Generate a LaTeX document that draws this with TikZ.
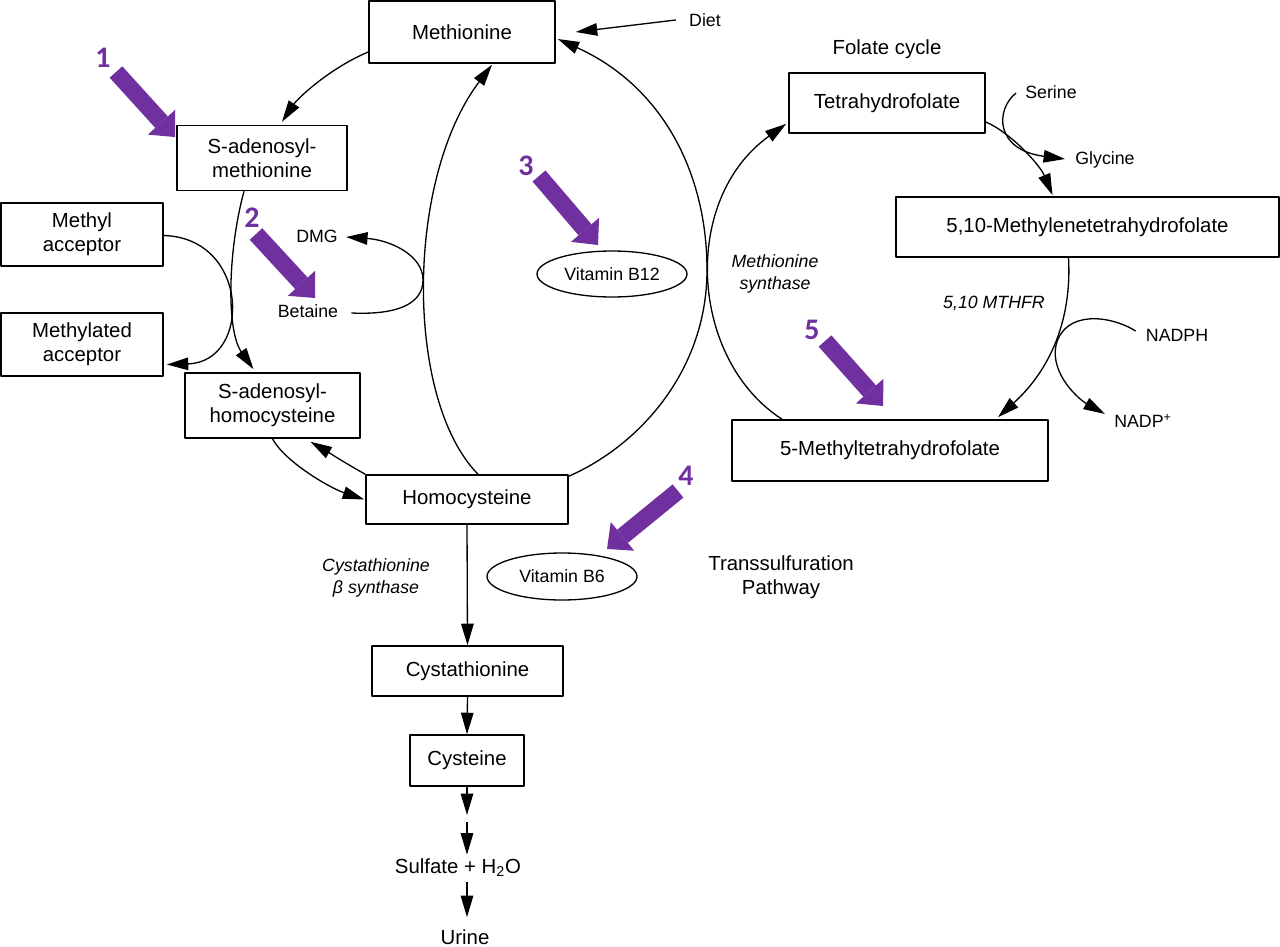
\documentclass[tikz,border=0pt]{standalone}
\usepackage{fontspec}
\setmainfont{Liberation Sans}
\newfontfamily\digitfont{Carlito}
\usepackage{xcolor}
\usepackage{tikz}
\usetikzlibrary{arrows.meta,calc,shapes.geometric}
\definecolor{HcyPurple}{RGB}{112,48,160}
\newcommand{\fsbig}{\fontsize{11.6pt}{13.5pt}\selectfont}
\newcommand{\fssmall}{\fontsize{10.1pt}{12.4pt}\selectfont}
\tikzset{
  hbox/.style   ={draw, line width=0.9pt, align=center, font=\fsbig, inner sep=1pt},
  hvit/.style   ={draw, ellipse, line width=0.75pt, inner sep=1pt, font=\fssmall},
  htext/.style  ={inner sep=0pt, align=center, font=\fsbig},
  hsmall/.style ={inner sep=0pt, align=center, font=\fssmall},
  henz/.style   ={inner sep=0pt, align=center, font=\fssmall\itshape},
  hflow/.style  ={draw, line width=0.75pt, -{Triangle[length=4.3mm,width=2.5mm]}},
  hfat/.style   ={draw=HcyPurple, line width=3.4mm, line cap=butt,
                  -{Triangle[length=4mm,width=7.4mm,line width=0pt]}},
  hnum/.style   ={text=HcyPurple, inner sep=0pt,
                  font=\digitfont\bfseries\fontsize{17pt}{17pt}\selectfont},
}

\begin{document}
\begin{tikzpicture}[
  x=0.02cm,y=-0.02cm,
  line join=round
]
\useasboundingbox (0,0) rectangle (1280,946);

% --- Methionine cycle -----------------------------------------------------
\node[hbox, minimum width=3.72cm, minimum height=1.24cm] (met)   at (462,32)      {Methionine};
\node[hbox, minimum width=3.40cm, minimum height=1.30cm] (sam)   at (262,158)     {S-adenosyl-\\methionine};
\node[hbox, minimum width=3.24cm, minimum height=1.26cm] (macc)  at (82,234.5)    {Methyl\\acceptor};
\node[hbox, minimum width=3.24cm, minimum height=1.26cm] (mdacc) at (82,344.5)    {Methylated\\acceptor};
\node[hbox, minimum width=3.50cm, minimum height=1.30cm] (sah)   at (272.5,405.5) {S-adenosyl-\\homocysteine};
\node[hbox, minimum width=4.04cm, minimum height=0.98cm] (hcy)   at (467,499.5)   {Homocysteine};

\node[hvit, minimum width=3.0cm, minimum height=0.92cm] (b12) at (612,274) {Vitamin B12};

\node[hsmall] (diet)    at (705,20)  {Diet};
\node[hsmall] (dmg)     at (317,236) {DMG};
\node[hsmall] (betaine) at (308,311) {Betaine};

\draw[hflow] ($(met.west)+(0,20)$) .. controls (330,68) and (298,98) .. ($(sam.north)+(20,-3)$);
\draw[hflow] ($(sam.south)+(-18,0)$) .. controls (228,250) and (226,330) .. ($(sah.north)+(-19,-3)$);
\draw[hflow] ($(macc.east)+(0,1)$) .. controls (250,238) and (252,362) .. ($(mdacc.east)+(3,20)$);
\draw[hflow] (sah.south) .. controls (285,462) and (330,488) .. ($(hcy.west)+(-1,0)$);
\draw[hflow] (hcy.north west) .. controls (345,463) and (328,452) .. ($(sah.south)+(38,3)$);
\draw[hflow] ($(hcy.north)+(11,0)$) .. controls (405,400) and (405,180) .. ($(met.south)+(30,1)$);
\draw[hflow] ($(hcy.north east)+(0,2)$) .. controls (640,445) and (707,370) .. (707,270)
  .. controls (707,170) and (660,85) .. ($(met.east)+(2,7)$);
\draw[hflow] ($(betaine.east)+(13,2)$) .. controls (395,315) and (423,305) .. (423,280)
  .. controls (423,255) and (390,240) .. ($(dmg.east)+(8,1)$);
\draw[hflow] ($(diet.west)+(-13,0)$) -- ($(met.east)+(20,0)$);

% --- Folate cycle ---------------------------------------------------------
\node[htext] (folate) at (887,49) {Folate cycle};
\node[hbox, minimum width=3.92cm, minimum height=1.20cm] (thf)     at (887,103)    {Tetrahydrofolate};
\node[hbox, minimum width=7.66cm, minimum height=1.20cm] (mthf510) at (1087.5,227) {5,10-Methylenetetrahydrofolate};
\node[hbox, minimum width=6.32cm, minimum height=1.22cm] (mthf5)   at (890,450.5)  {5-Methyltetrahydrofolate};

\node[hsmall] (serine)  at (1051,92)  {Serine};
\node[hsmall] (glycine) at (1105,160) {Glycine};
\node[hsmall] (nadph)   at (1177,335) {NADPH};
\node[hsmall] (nadp)    at (1143,421) {NADP\textsuperscript{+}};
\node[henz]   (metsyn)  at (775,274)  {Methionine\\synthase};
\node[henz]   (mthfr)   at (994,303)  {5,10 MTHFR};

\draw[hflow] ($(mthf5.north)+(-108,0)$) .. controls (690,360) and (680,200) .. ($(thf.south west)+(-2,-10)$);
\draw[hflow] ($(thf.east)+(0,19)$) .. controls (1010,132) and (1040,165) .. ($(mthf510.north)+(-35,-1)$);
\draw[hflow] ($(serine.west)+(-9,1)$) .. controls (995,110) and (995,150) .. ($(glycine.west)+(-10,-1)$);
\draw[hflow] ($(mthf510.south)+(-19,0)$) .. controls (1072,320) and (1050,370) .. ($(mthf5.north)+(108,-2)$);
\draw[hflow] ($(nadph.west)+(-10,-4)$) .. controls (1110,315) and (1065,310) .. (1056,345)
  .. controls (1050,375) and (1080,400) .. ($(nadp.west)+(-9,-7)$);

% --- Transsulfuration -----------------------------------------------------
\node[hbox, minimum width=3.82cm, minimum height=1.00cm] (cysta) at (467.5,671) {Cystathionine};
\node[hbox, minimum width=2.28cm, minimum height=1.02cm] (cys)   at (467,760.5) {Cysteine};
\node[hvit, minimum width=3.0cm, minimum height=0.94cm] (b6) at (562,576.5) {Vitamin B6};

\node[henz]  (cbs)     at (376,578) {Cystathionine\\β synthase};
\node[htext] (trans)   at (781,577) {Transsulfuration\\Pathway};
\node[htext] (sulfate) at (458,868) {Sulfate + H\textsubscript{2}O};
\node[htext] (urine)   at (465,937) {Urine};

\coordinate (gapa) at (467,815);
\coordinate (gapb) at (467,822);

\draw[hflow] (hcy.south) -- (cysta.north);
\draw[hflow] (cysta.south) -- (cys.north);
\draw[hflow] (cys.south) -- (gapa);
\draw[hflow] (gapb) -- ($(sulfate.north -| gapb)+(0,-4)$);
\draw[hflow] ($(sulfate.south -| gapb)+(0,5)$) -- ($(urine.north -| gapb)+(0,-12)$);

% --- Highlight arrows -----------------------------------------------------
\coordinate (f1a) at (116,72);  \coordinate (f1b) at (175,137);
\coordinate (f2a) at (256,234); \coordinate (f2b) at (315,298);
\coordinate (f3a) at (539,176); \coordinate (f3b) at (598,245);
\coordinate (f4a) at (678,491); \coordinate (f4b) at (607,549);
\coordinate (f5a) at (825,341); \coordinate (f5b) at (883,406);

\draw[hfat] (f1a) -- (f1b);
\draw[hfat] (f2a) -- (f2b);
\draw[hfat] (f3a) -- (f3b);
\draw[hfat] (f4a) -- (f4b);
\draw[hfat] (f5a) -- (f5b);

\node[hnum] (n1) at (103,58)  {1};
\node[hnum] (n2) at (252,218) {2};
\node[hnum] (n3) at (526,166) {3};
\node[hnum] (n4) at (686,476) {4};
\node[hnum] (n5) at (812,330) {5};

\end{tikzpicture}
\end{document}
